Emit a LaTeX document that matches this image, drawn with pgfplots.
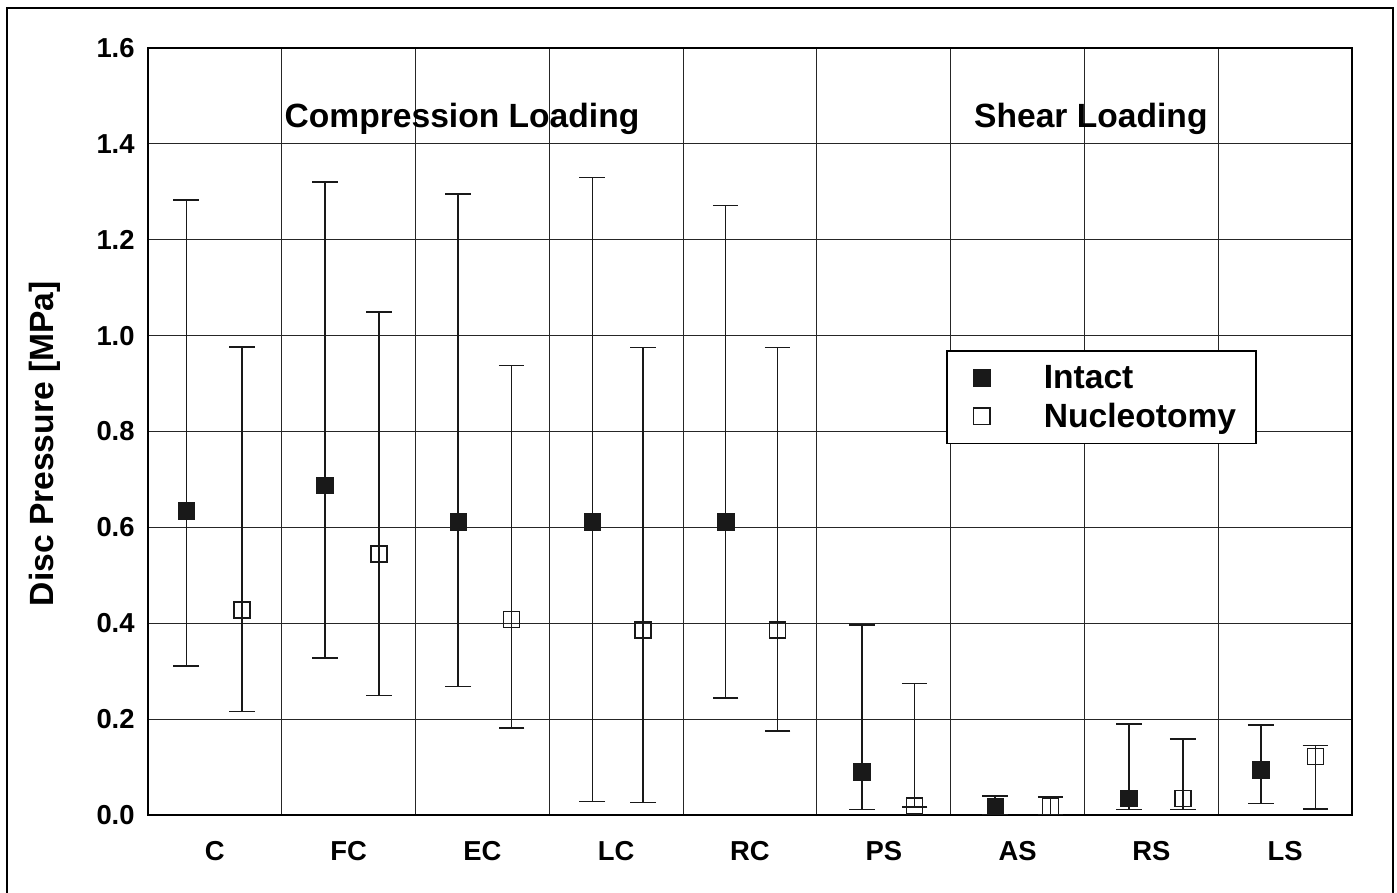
\documentclass[border=0pt]{standalone}
\usepackage{fontspec}
\setmainfont{Liberation Sans}
\usepackage{pgfplots}
\pgfplotsset{compat=1.18}
\usepackage{pgfplotstable}

\pgfplotstableread{
x      y     ep    em
-0.214 0.634 0.649 0.323
0.823  0.688 0.632 0.361
1.819  0.612 0.683 0.344
2.821  0.612 0.718 0.584
3.818  0.612 0.659 0.368
4.838  0.090 0.306 0.079
5.833  0.018 0.022 0.018
6.832  0.035 0.155 0.024
7.818  0.094 0.094 0.070
}\intact

\pgfplotstableread{
x      y     ep    em
0.203  0.428 0.548 0.212
1.226  0.545 0.504 0.296
2.218  0.408 0.530 0.227
3.202  0.386 0.589 0.360
4.206  0.386 0.589 0.211
5.231  0.019 0.255 0.002
6.247  0.018 0.020 0.018
7.235  0.034 0.125 0.023
8.226  0.122 0.023 0.110
}\nucleo

\begin{document}
\begin{tikzpicture}
\useasboundingbox (-74pt,-39pt) rectangle (624.5pt,407.5pt);
\draw[line width=0.8pt] (-70.5pt,-41pt) rectangle (622.5pt,403.5pt);
\begin{axis}[
  at={(0,0)}, anchor=south west,
  scale only axis, width=602pt, height=383.5pt,
  xmin=-0.5, xmax=8.5, ymin=0, ymax=1.6,
  xtick={0,1,2,3,4,5,6,7,8},
  xticklabels={C,FC,EC,LC,RC,PS,AS,RS,LS},
  minor xtick={0.5,1.5,2.5,3.5,4.5,5.5,6.5,7.5},
  ytick={0,0.2,0.4,0.6,0.8,1.0,1.2,1.4,1.6},
  xminorgrids, ymajorgrids,
  major tick length=0pt, minor tick length=0pt,
  grid style={line width=0.5pt, black!85},
  minor grid style={line width=0.5pt, black!85},
  axis line style={line width=1.3pt},
  tick label style={font=\fontsize{13.7}{16}\selectfont\bfseries},
  /pgf/number format/assume math mode=true,
  yticklabel style={/pgf/number format/fixed, /pgf/number format/fixed zerofill, /pgf/number format/precision=1},
  yticklabel style={anchor=east, inner sep=0pt, xshift=-6.5pt},
  xticklabel style={anchor=base, inner sep=0pt, yshift=-22.75pt},
  ylabel={Disc Pressure [MPa]},
  ylabel style={font=\fontsize{16.8}{20}\selectfont\bfseries, at={(axis description cs:-0.0855,0.484)}, anchor=center},
  legend style={at={(axis description cs:0.6628,0.6063)}, anchor=north west, draw=black, line width=0.8pt,
    inner xsep=10pt, inner ysep=4pt, font=\fontsize{16.8}{20}\selectfont\bfseries,
    cells={anchor=west}, row sep=0pt, nodes={inner sep=0pt, draw=none}},
  legend image code/.code={\path[draw=none] (-7.5pt,-9.6pt) rectangle (31pt,9.6pt); \draw[#1, mark size=4.1pt] plot coordinates {(0pt,0pt)};},
]
\addplot[only marks, mark=square*, mark size=4.17pt,
  mark options={fill=black!90, draw=black!90, line width=0.3pt},
  error bars/.cd, y dir=both, y explicit,
  error bar style={line width=0.75pt, black!90},
  error mark=-, error mark options={rotate=90, mark size=6.4pt, line width=0.75pt, black!90}]
  table[x=x, y=y, y error plus=ep, y error minus=em] {\intact};
\addlegendentry{Intact}
\addplot[only marks, mark=square, mark size=4pt,
  mark options={draw=black!90, line width=0.8pt},
  error bars/.cd, y dir=both, y explicit,
  error bar style={line width=0.75pt, black!90},
  error mark=-, error mark options={rotate=90, mark size=6.4pt, line width=0.75pt, black!90}]
  table[x=x, y=y, y error plus=ep, y error minus=em] {\nucleo};
\addlegendentry{Nucleotomy}
\node[anchor=base, font=\fontsize{16.8}{20}\selectfont\bfseries] at (axis cs:1.847,1.435) {Compression Loading};
\node[anchor=base, font=\fontsize{16.8}{20}\selectfont\bfseries] at (axis cs:6.548,1.435) {Shear Loading};
\end{axis}
\end{tikzpicture}
\end{document}
